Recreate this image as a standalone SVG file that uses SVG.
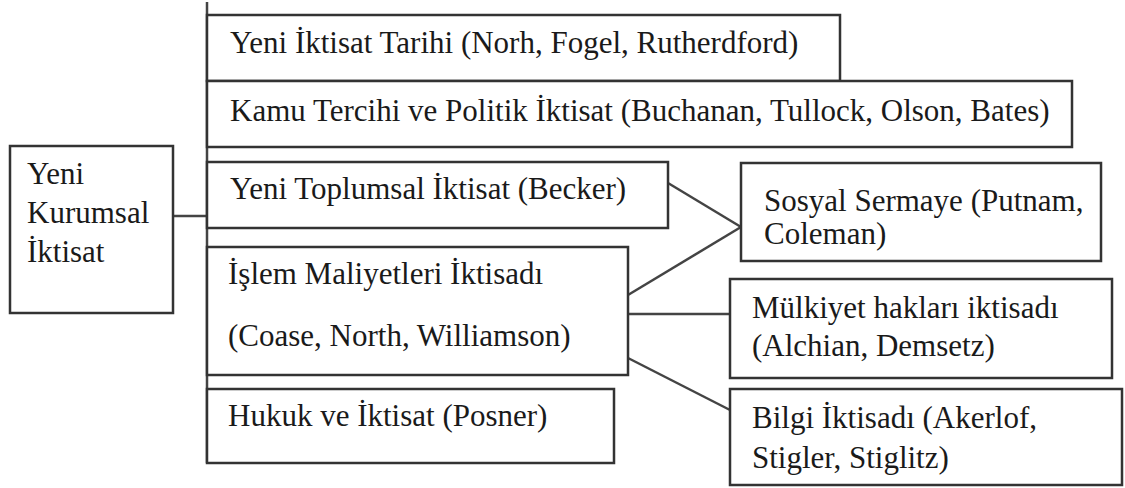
<svg xmlns="http://www.w3.org/2000/svg" width="1125" height="488" viewBox="0 0 1125 488">
<defs>
<style>
rect.box{fill:#ffffff;stroke:#333333;stroke-width:2.5}
line.ln{stroke:#444444;stroke-width:2.5;fill:none}
text{font-family:'Liberation Serif',serif;font-size:31px;fill:#1a1a1a}
</style>
</defs>
<rect width="1125" height="488" fill="#ffffff"/>
<g id="connectors">
<line class="ln" x1="207" y1="2" x2="207" y2="463"/>
<line class="ln" x1="173" y1="216" x2="207" y2="216"/>
<line class="ln" x1="668" y1="183" x2="741" y2="227"/>
<line class="ln" x1="628" y1="295" x2="741" y2="227"/>
<line class="ln" x1="628" y1="314" x2="730" y2="314"/>
<line class="ln" x1="628" y1="358" x2="730" y2="410"/>
</g>
<g id="root">
<rect class="box" x="10" y="146" width="163" height="167"/>
<text x="27" y="184">Yeni</text>
<text x="27" y="223">Kurumsal</text>
<text x="27" y="262">İktisat</text>
</g>
<g id="n1">
<rect class="box" x="207" y="15" width="633" height="66"/>
<text x="230" y="53">Yeni İktisat Tarihi (Norh, Fogel, Rutherdford)</text>
</g>
<g id="n2">
<rect class="box" x="207" y="81" width="865" height="66"/>
<text x="230" y="121">Kamu Tercihi ve Politik İktisat (Buchanan, Tullock, Olson, Bates)</text>
</g>
<g id="n3">
<rect class="box" x="207" y="162" width="461" height="66"/>
<text x="230" y="199">Yeni Toplumsal İktisat (Becker)</text>
</g>
<g id="n4">
<rect class="box" x="207" y="247" width="421" height="128"/>
<text x="228" y="284">İşlem Maliyetleri İktisadı</text>
<text x="228" y="346">(Coase, North, Williamson)</text>
</g>
<g id="n5">
<rect class="box" x="207" y="389" width="407" height="74"/>
<text x="228" y="426">Hukuk ve İktisat (Posner)</text>
</g>
<g id="n6">
<rect class="box" x="741" y="163" width="360" height="98"/>
<text x="764" y="211">Sosyal Sermaye (Putnam,</text>
<text x="764" y="244">Coleman)</text>
</g>
<g id="n7">
<rect class="box" x="730" y="279" width="382" height="99"/>
<text x="752" y="318">Mülkiyet hakları iktisadı</text>
<text x="752" y="356">(Alchian, Demsetz)</text>
</g>
<g id="n8">
<rect class="box" x="730" y="389" width="392" height="96"/>
<text x="752" y="428">Bilgi İktisadı (Akerlof,</text>
<text x="752" y="468">Stigler, Stiglitz)</text>
</g>
</svg>
